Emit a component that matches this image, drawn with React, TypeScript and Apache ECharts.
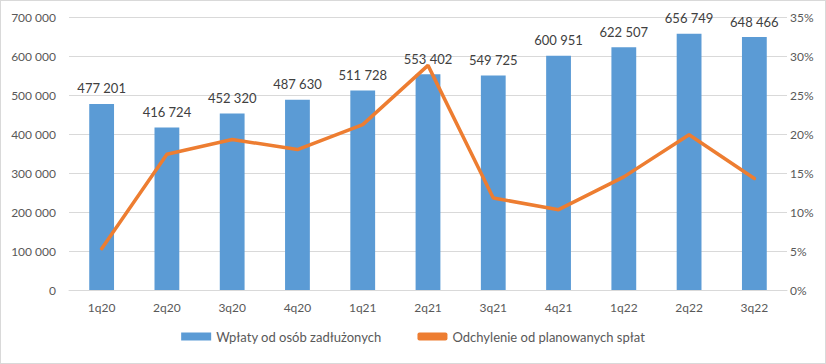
import React, { useEffect, useRef } from "react";
import * as echarts from "echarts";

const categories = ["1q20", "2q20", "3q20", "4q20", "1q21", "2q21", "3q21", "4q21", "1q22", "2q22", "3q22"];
const payments = [477201, 416724, 452320, 487630, 511728, 553402, 549725, 600951, 622507, 656749, 648466];
const deviationPct = [5.3, 17.4, 19.3, 18.0, 21.2, 28.8, 11.8, 10.3, 14.5, 19.9, 14.3];
const barName = "Wpłaty od osób zadłużonych";
const lineName = "Odchylenie od planowanych spłat";

const fmt = (v: number) => String(Math.round(v)).replace(/\B(?=(\d{3})+(?!\d))/g, " ");
const FONT = "Lato, 'Open Sans', sans-serif";

export default function App() {
  const ref = useRef<HTMLDivElement>(null);
  useEffect(() => {
    document.body.style.margin = "0";
    const chart = echarts.init(ref.current!, null, { renderer: "svg" });
    chart.setOption({
      animation: false,
      textStyle: { fontFamily: FONT },
      grid: { left: 69, right: 39, top: 17, bottom: 74 },
      legend: {
        bottom: 16,
        left: "center",
        itemGap: 36,
        itemWidth: 30,
        itemHeight: 8,
        textStyle: { color: "#595959", fontSize: 13, fontFamily: FONT },
        data: [
          { name: barName, icon: "rect" },
          { name: lineName, icon: "roundRect" },
        ],
      },
      xAxis: {
        type: "category",
        data: categories,
        axisLine: { lineStyle: { color: "#d9d9d9" } },
        axisTick: { show: false },
        axisLabel: { color: "#595959", fontSize: 12, margin: 11, fontFamily: FONT },
      },
      yAxis: [
        {
          type: "value",
          min: 0,
          max: 700000,
          interval: 100000,
          axisLine: { show: false },
          axisTick: { show: false },
          splitLine: { lineStyle: { color: "#d9d9d9" } },
          axisLabel: { color: "#595959", fontSize: 12, margin: 13, formatter: (v: number) => fmt(v), fontFamily: FONT },
        },
        {
          type: "value",
          min: 0,
          max: 35,
          interval: 5,
          axisLine: { show: false },
          axisTick: { show: false },
          splitLine: { show: false },
          axisLabel: { color: "#595959", fontSize: 12, margin: 3, formatter: "{value}%", fontFamily: FONT },
        },
      ],
      series: [
        {
          name: barName,
          type: "bar",
          data: payments,
          barWidth: "38%",
          itemStyle: { color: "#5B9BD5" },
          label: {
            show: true,
            position: "top",
            distance: 9,
            color: "#404040",
            fontSize: 13,
            fontFamily: FONT,
            formatter: (p: any) => fmt(p.value),
          },
        },
        {
          name: lineName,
          type: "line",
          yAxisIndex: 1,
          data: deviationPct,
          symbol: "none",
          lineStyle: { color: "#ED7D31", width: 3.5, cap: "round" },
          itemStyle: { color: "#ED7D31" },
        },
      ],
    });
    return () => chart.dispose();
  }, []);
  return (
    <div
      style={{
        position: "absolute",
        left: 0,
        top: 0,
        width: 826,
        height: 364,
        boxSizing: "border-box",
        border: "1px solid #d9d9d9",
        background: "#fff",
      }}
    >
      <div ref={ref} style={{ position: "absolute", left: -1, top: -1, width: 826, height: 364 }} />
    </div>
  );
}
